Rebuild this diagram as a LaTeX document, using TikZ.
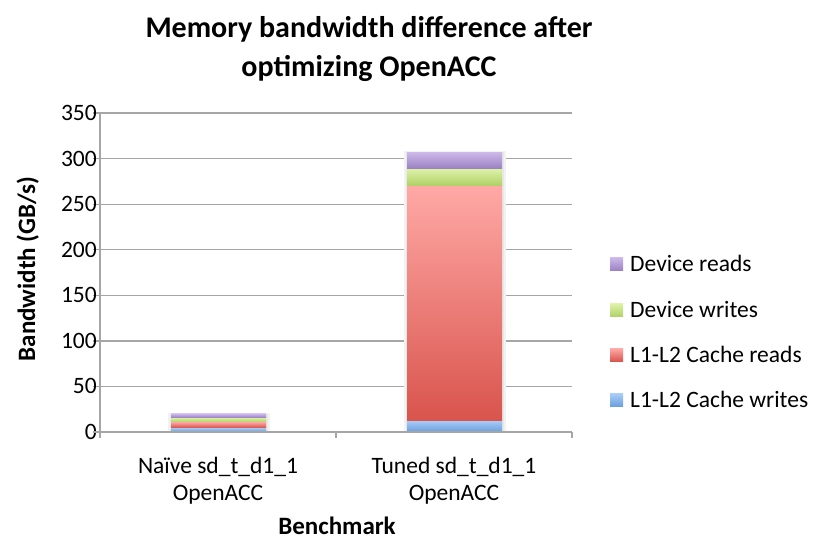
\documentclass[tikz,border=0pt]{standalone}
\usepackage{fontspec}
\setmainfont{Carlito}
\definecolor{gridc}{HTML}{A6A6A6}
\definecolor{purpletop}{HTML}{CDB9EA}
\definecolor{purplebot}{HTML}{9A80C2}
\definecolor{greentop}{HTML}{DEF2A8}
\definecolor{greenbot}{HTML}{B0D267}
\definecolor{redtop}{HTML}{FFA9A6}
\definecolor{redbot}{HTML}{D9544D}
\definecolor{bluetop}{HTML}{AACEF6}
\definecolor{bluebot}{HTML}{6A9EE0}
\newcommand{\segm}[5]{%
  \shade[top color=#5top, bottom color=#5bot] (#1,{432-0.9114*#4}) rectangle (#2,{432-0.9114*#3});}
\newcommand{\barshadow}[3]{%
  \fill[black!5] ({#1-3},{432-0.9114*#3-1}) rectangle ({#2+4},432);
  \fill[black!9] ({#1-1.5},{432-0.9114*#3}) rectangle ({#2+2},432);}
\begin{document}
\begin{tikzpicture}[x=1pt,y=-1pt,
  gridline/.style={draw=gridc, line width=1.3pt},
  ticklabel/.style={font=\fontsize{23.5}{28}\selectfont, inner sep=0pt},
  legendtext/.style={font=\fontsize{23.5}{28}\selectfont, inner sep=0pt, anchor=base west},
  titletext/.style={font=\fontsize{30}{36}\selectfont\bfseries, inner sep=0pt, anchor=base},
  axistitle/.style={font=\fontsize{25}{30}\selectfont\bfseries, inner sep=0pt, anchor=base}]
\useasboundingbox[fill=white] (0,0) rectangle (814,541);
% title
\node[titletext] (title1) at (369,37) {Memory bandwidth difference after};
\node[titletext] (title2) at (369,76) {optimizing OpenACC};
% gridlines and y ticks
\foreach \v in {50,100,...,350} {
  \draw[gridline] (93,{432-0.9114*\v}) -- (572,{432-0.9114*\v});
}
\foreach \v in {0,50,...,350} {
  \node[ticklabel, anchor=base east] (t\v) at (97,{432-0.9114*\v+7.5}) {\v};
}
% bars
\barshadow{171}{266}{20}
\barshadow{407}{502}{307}
\segm{171}{266}{0}{5}{blue}
\segm{171}{266}{5}{11}{red}
\segm{171}{266}{11}{16}{green}
\segm{171}{266}{16}{20}{purple}
\segm{407}{502}{0}{13}{blue}
\segm{407}{502}{13}{271}{red}
\segm{407}{502}{271}{289}{green}
\segm{407}{502}{289}{307}{purple}
% axes
\draw[gridline] (100,113) -- (100,432);
\draw[gridline] (93,432) -- (572,432);
\foreach \x in {100,336,572} {
  \draw[gridline] (\x,432) -- (\x,438);
}
% category labels
\node[ticklabel, anchor=base] (c1a) at (218,473) {Naïve sd\_t\_d1\_1};
\node[ticklabel, anchor=base] (c1b) at (218,500) {OpenACC};
\node[ticklabel, anchor=base] (c2a) at (454,473) {Tuned sd\_t\_d1\_1};
\node[ticklabel, anchor=base] (c2b) at (454,500) {OpenACC};
% axis titles
\node[axistitle] (xt) at (337,534) {Benchmark};
\node[axistitle, rotate=90] (yt) at (35,269) {Bandwidth (GB/s)};
% legend
\foreach \c/\t/\y in {purple/Device reads/264, green/Device writes/310, red/L1-L2 Cache reads/355, blue/L1-L2 Cache writes/400} {
  \shade[top color=\c top, bottom color=\c bot] (610,{\y-6.5}) rectangle (623,{\y+6.5});
  \node[legendtext] (l\y) at (630,{\y+7.5}) {\t};
}
\end{tikzpicture}
\end{document}
